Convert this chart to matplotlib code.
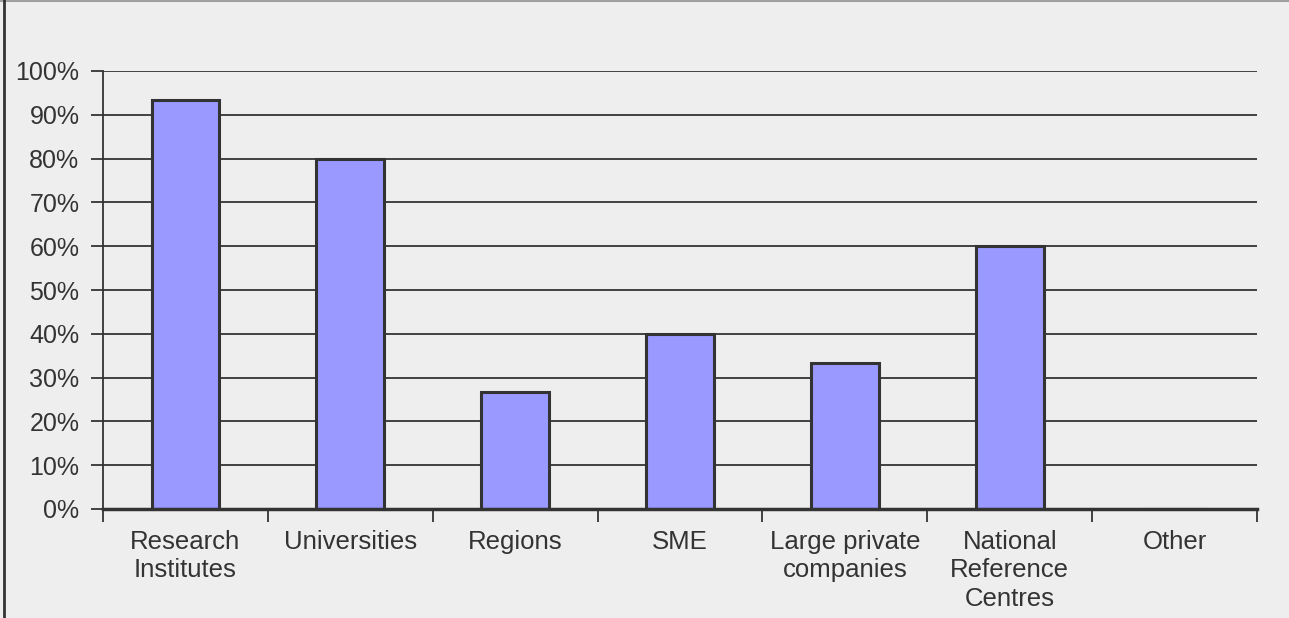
import numpy as np
import matplotlib.pyplot as plt
from matplotlib.lines import Line2D
from matplotlib.ticker import FuncFormatter, FixedLocator

plt.rcParams['font.family'] = ['Liberation Sans', 'DejaVu Sans']

categories = ['Research\nInstitutes', 'Universities', 'Regions', 'SME',
              'Large private\ncompanies', 'National\nReference\nCentres', 'Other']
shares = [93.3, 80.0, 26.7, 40.0, 33.3, 60.0, 0.0]

bg = '#eeeeee'
ink = '#333333'

fig = plt.figure(figsize=(12.89, 6.18), dpi=100, facecolor=bg)
ax = fig.add_axes([103 / 1289, 1 - 509 / 618, (1257 - 103) / 1289, (509 - 71) / 618])
ax.set_facecolor(bg)

x = np.arange(len(categories))
ax.bar(x, shares, width=0.41, color='#9999ff', edgecolor=ink, linewidth=2.2, zorder=3)

ax.set_xlim(-0.5, len(categories) - 0.5)
ax.set_ylim(0, 100)
ax.set_yticks(np.arange(0, 101, 10))
ax.yaxis.set_major_formatter(FuncFormatter(lambda v, p: f'{v:.0f}%'))
ax.grid(axis='y', color=ink, linewidth=1.3, zorder=1)

# category labels centred, ticks at category boundaries
ax.set_xticks(x)
ax.set_xticklabels(categories, fontsize=18.5, color=ink, linespacing=1.23)
ax.tick_params(axis='x', length=0, pad=15)
ax.xaxis.set_minor_locator(FixedLocator(np.arange(len(categories) + 1) - 0.5))
ax.tick_params(axis='x', which='minor', length=9, width=1.3, color=ink, direction='out')
ax.tick_params(axis='y', length=9, width=1.3, color=ink, labelsize=18,
               labelcolor=ink, pad=8)

for side in ['top', 'right']:
    ax.spines[side].set_visible(False)
ax.spines['left'].set_color(ink)
ax.spines['left'].set_linewidth(1.3)
ax.spines['bottom'].set_color(ink)
ax.spines['bottom'].set_linewidth(2.5)
ax.spines['bottom'].set_zorder(4)

# frame lines along the top and left edges of the figure
fig.add_artist(Line2D([0, 1], [0.999, 0.999], transform=fig.transFigure,
                      color='#a0a0a0', linewidth=1.5))
fig.add_artist(Line2D([4 / 1289, 4 / 1289], [0, 1], transform=fig.transFigure,
                      color=ink, linewidth=2))

fig.savefig('out.png', dpi=100, facecolor=bg)
